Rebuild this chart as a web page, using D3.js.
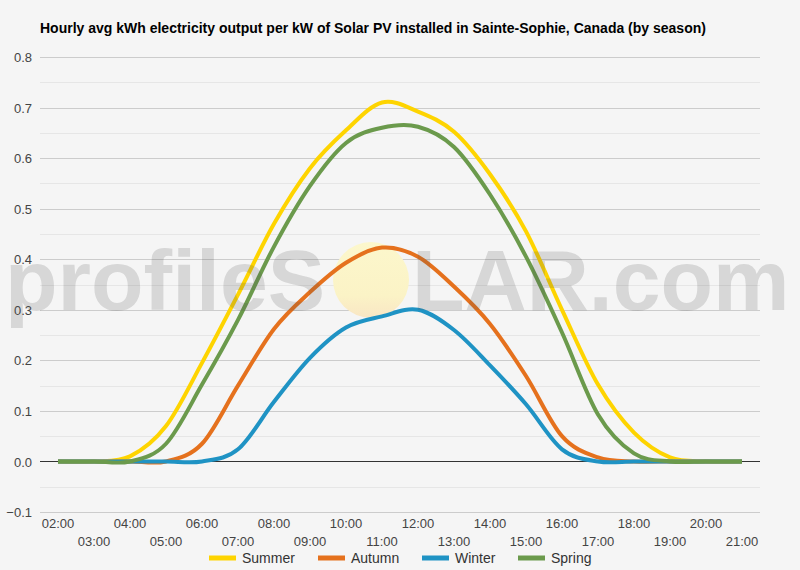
<!DOCTYPE html>
<html>
<head>
<meta charset="utf-8">
<script src="https://cdn.jsdelivr.net/npm/d3@7"></script>
<style>
  body { margin: 0; background: #f5f5f5; }
  svg { display: block; font-family: Arial, "Liberation Sans", sans-serif; }
</style>
</head>
<body>
<div id="chart-container"></div>
<script>
const title = 'Hourly avg kWh electricity output per kW of Solar PV installed in Sainte-Sophie, Canada (by season)';

const hours = ['02:00', '03:00', '04:00', '05:00', '06:00', '07:00', '08:00', '09:00', '10:00', '11:00',
  '12:00', '13:00', '14:00', '15:00', '16:00', '17:00', '18:00', '19:00', '20:00', '21:00'];

const seasonNames = ['Summer', 'Autumn', 'Winter', 'Spring'];
const seasonColors = ['#fed400', '#e5711d', '#1f93c4', '#6b9a4c'];

const summer = [0, 0, 0.01, 0.07, 0.195, 0.33, 0.47, 0.58, 0.655, 0.71, 0.692, 0.652, 0.568, 0.455, 0.30, 0.152, 0.057, 0.008, 0, 0];
const autumn = [0, 0, 0, 0, 0.035, 0.15, 0.262, 0.335, 0.393, 0.423, 0.405, 0.346, 0.272, 0.169, 0.05, 0.008, 0, 0, 0, 0];
const winter = [0, 0, 0, 0, 0, 0.024, 0.118, 0.205, 0.265, 0.287, 0.30, 0.26, 0.19, 0.113, 0.024, 0, 0, 0, 0, 0];
const spring = [0, 0, 0, 0.035, 0.152, 0.28, 0.425, 0.545, 0.63, 0.66, 0.662, 0.622, 0.528, 0.405, 0.255, 0.093, 0.016, 0, 0, 0];

const yTicks = [-0.1, 0, 0.1, 0.2, 0.3, 0.4, 0.5, 0.6, 0.7, 0.8];
const yMinorTicks = [-0.05, 0.05, 0.15, 0.25, 0.35, 0.45, 0.55, 0.65, 0.75];

const width = 800;
const height = 570;
const plot = { left: 40, right: 760, top: 57, bottom: 512 };

const svg = d3.select('#chart-container')
    .append('svg')
    .attr('width', width)
    .attr('height', height);

svg.append('rect')
    .attr('width', width)
    .attr('height', height)
    .attr('fill', '#f5f5f5');

// Title
svg.append('text')
    .text(title)
    .attr('x', 40)
    .attr('y', 33)
    .attr('font-size', 14)
    .attr('font-weight', 'bold')
    .attr('fill', '#000');

const xScale = d3.scaleBand(hours, [plot.left, plot.right]);
const xPos = h => xScale(h) + xScale.bandwidth() / 2;
const yScale = d3.scaleLinear([-0.1, 0.8], [plot.bottom, plot.top]);

// Gridlines
svg.append('g')
    .selectAll('line')
    .data(yMinorTicks)
    .join('line')
    .attr('x1', plot.left)
    .attr('x2', plot.right)
    .attr('y1', d => Math.round(yScale(d)) + 0.5)
    .attr('y2', d => Math.round(yScale(d)) + 0.5)
    .attr('stroke', '#e6e6e6');

svg.append('g')
    .selectAll('line')
    .data(yTicks.filter(d => d !== 0))
    .join('line')
    .attr('x1', plot.left)
    .attr('x2', plot.right)
    .attr('y1', d => Math.round(yScale(d)) + 0.5)
    .attr('y2', d => Math.round(yScale(d)) + 0.5)
    .attr('stroke', '#cccccc');

// Y-axis labels
const yAxis = svg.append('g')
    .attr('id', 'y-axis')
    .attr('transform', `translate(${plot.left - 8}, 0)`)
    .call(d3.axisLeft(yScale).tickValues(yTicks).tickFormat(d3.format('.1f')).tickSize(0).tickPadding(0));
yAxis.select('.domain').remove();
yAxis.selectAll('text')
    .attr('font-size', 13)
    .attr('font-family', 'Arial, "Liberation Sans", sans-serif')
    .attr('fill', '#444')
    .attr('dy', '0.35em');

// X-axis labels, staggered in two rows
const xAxis = svg.append('g')
    .attr('id', 'x-axis')
    .attr('transform', `translate(0, ${plot.bottom})`)
    .call(d3.axisBottom(xScale).tickSize(0).tickPadding(0));
xAxis.select('.domain').remove();
xAxis.selectAll('text')
    .attr('font-size', 13)
    .attr('font-family', 'Arial, "Liberation Sans", sans-serif')
    .attr('fill', '#444')
    .attr('dy', null)
    .attr('y', (d, i) => i % 2 === 0 ? 16 : 34);

// Sun behind the lines
const defs = svg.append('defs');
const sunGrad = defs.append('linearGradient')
    .attr('id', 'sun-grad')
    .attr('x1', 0).attr('y1', 0).attr('x2', 0).attr('y2', 1);
sunGrad.append('stop').attr('offset', '0%').attr('stop-color', '#fcf7cc');
sunGrad.append('stop').attr('offset', '70%').attr('stop-color', '#fbf3c6');
sunGrad.append('stop').attr('offset', '100%').attr('stop-color', '#f9e6c4');

svg.append('ellipse')
    .attr('cx', 371)
    .attr('cy', 280)
    .attr('rx', 38)
    .attr('ry', 38)
    .attr('fill', 'url(#sun-grad)');

// Zero baseline
svg.append('line')
    .attr('x1', plot.left)
    .attr('x2', plot.right)
    .attr('y1', Math.round(yScale(0)) + 0.5)
    .attr('y2', Math.round(yScale(0)) + 0.5)
    .attr('stroke', '#333');

// Series lines
const seriesValues = [summer, autumn, winter, spring];
const line = d3.line()
    .x((d, i) => xPos(hours[i]))
    .y(d => yScale(d))
    .curve(d3.curveCatmullRom.alpha(0));

svg.append('g')
    .selectAll('path')
    .data(seriesValues)
    .join('path')
    .attr('d', d => line(d))
    .attr('fill', 'none')
    .attr('stroke', (d, i) => seasonColors[i])
    .attr('stroke-width', 4)
    .attr('stroke-linejoin', 'round');

// Watermark on top
const wm = svg.append('g')
    .attr('font-family', 'Arial, "Liberation Sans", sans-serif')
    .attr('font-size', 86)
    .attr('font-weight', 'bold')
    .attr('fill', '#555')
    .attr('fill-opacity', 0.19);
wm.append('text').text('profileS').attr('x', 5).attr('y', 310);
wm.append('text').text('LAR.com').attr('x', 412).attr('y', 310);

// Legend
const legendX = [209, 318, 422, 518];
const legend = svg.append('g')
    .selectAll('g')
    .data(seasonNames)
    .join('g')
    .attr('transform', (d, i) => `translate(${legendX[i]}, 558)`);
legend.append('line')
    .attr('x1', 0)
    .attr('x2', 27)
    .attr('stroke', (d, i) => seasonColors[i])
    .attr('stroke-width', 5);
legend.append('text')
    .text(d => d)
    .attr('x', 33)
    .attr('y', 5)
    .attr('font-size', 14)
    .attr('fill', '#333');
</script>
</body>
</html>
